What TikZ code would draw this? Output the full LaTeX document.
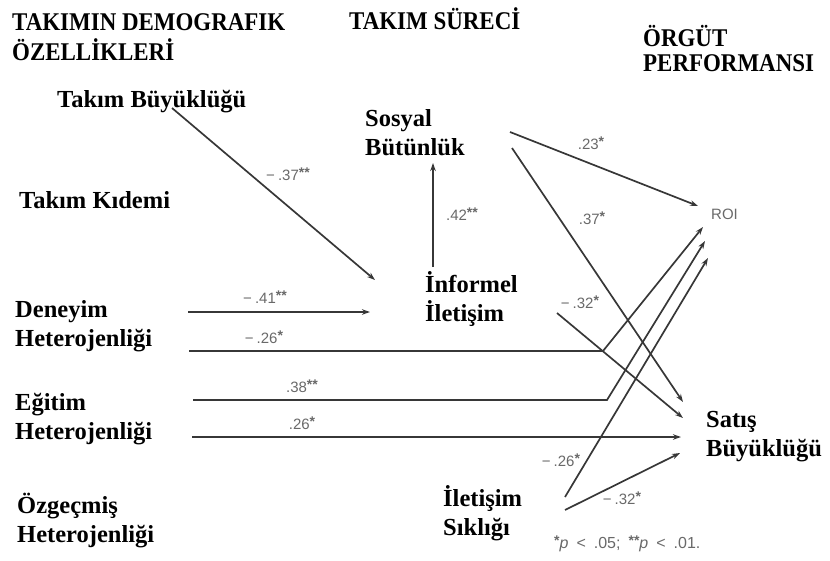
\documentclass[tikz,border=0pt]{standalone}
\usepackage{fontspec}
\setmainfont{Liberation Serif}
\setsansfont{Liberation Sans}
\newfontfamily\headfont[FakeStretch=0.9]{Liberation Serif}
\usetikzlibrary{arrows.meta}

\definecolor{inkline}{RGB}{55,55,55}
\definecolor{coefgrey}{RGB}{105,105,105}

% significance marks set as raised asterisks
\newcommand{\stars}[1]{\raisebox{0.35ex}{\fontsize{14}{14}\selectfont\bfseries #1}}
\newcommand{\mns}{−\hspace{3pt}}

\begin{document}
\begin{tikzpicture}[x=1pt,y=-1pt,
  heading/.style={font=\headfont\bfseries\fontsize{25.5}{30}\selectfont, anchor=base west, align=left, inner sep=0pt},
  var/.style={font=\bfseries\fontsize{24.5}{29}\selectfont, anchor=base west, align=left, inner sep=0pt},
  coef/.style={font=\sffamily\fontsize{15}{17}\selectfont, text=coefgrey, inner sep=0pt},
  link/.style={draw=inkline, line width=1.7pt, -{Stealth[length=8pt,width=5.5pt]}},
]
\useasboundingbox (0,0) rectangle (830,560);

% column headings (anchored on the baseline of their last line)
\node[heading] (hdemo) at (12,60) {TAKIMIN DEMOGRAFIK\\ÖZELLİKLERİ};
\node[heading] (hproc) at (349,29) {TAKIM SÜRECİ};
\node[heading, font=\headfont\bfseries\fontsize{25.5}{25}\selectfont] (hperf) at (643,71) {ÖRGÜT\\PERFORMANSI};

% variables
\node[var] (tb) at (57,107) {Takım Büyüklüğü};
\node[var] (tk) at (19,208) {Takım Kıdemi};
\node[var] (deney) at (15,346) {Deneyim\\Heterojenliği};
\node[var] (egitim) at (15,439) {Eğitim\\Heterojenliği};
\node[var] (ozgec) at (17,542) {Özgeçmiş\\Heterojenliği};
\node[var] (sosyal) at (365,155) {Sosyal\\Bütünlük};
\node[var] (informel) at (425,321) {İnformel\\İletişim};
\node[var] (satis) at (706,456) {Satış\\Büyüklüğü};
\node[var] (iletisim) at (443,535) {İletişim\\Sıklığı};
\node[coef, anchor=west] (roi) at (711,214) {ROI};

% connector end points
\coordinate (tb-out) at (172,108);
\coordinate (inf-in1) at (375,280);
\coordinate (den-out1) at (188,312);
\coordinate (inf-in2) at (370,312);
\coordinate (inf-out1) at (433,267);
\coordinate (sos-in) at (433,163);
\coordinate (sos-out1) at (510,132);
\coordinate (sos-out2) at (512,148);
\coordinate (inf-out2) at (557,313);
\coordinate (den-out2) at (189,351);
\coordinate (den-bend) at (603,351);
\coordinate (egi-out1) at (193,400);
\coordinate (egi-bend) at (607,400);
\coordinate (egi-out2) at (192,437);
\coordinate (ile-out1) at (565,497);
\coordinate (ile-out2) at (565,510);
\coordinate (roi-in1) at (698,206);
\coordinate (roi-in2) at (703,227);
\coordinate (roi-in3) at (705,241);
\coordinate (roi-in4) at (708,258);
\coordinate (sat-in1) at (683,402);
\coordinate (sat-in2) at (683,418);
\coordinate (sat-in3) at (681,437);
\coordinate (sat-in4) at (680,453);

% paths
\draw[link] (tb-out) -- (inf-in1);
\draw[link] (den-out1) -- (inf-in2);
\draw[link] (inf-out1) -- (sos-in);
\draw[link] (sos-out1) -- (roi-in1);
\draw[link] (sos-out2) -- (sat-in1);
\draw[link] (inf-out2) -- (sat-in2);
\draw[link] (den-out2) -- (den-bend) -- (roi-in2);
\draw[link] (egi-out1) -- (egi-bend) -- (roi-in3);
\draw[link] (egi-out2) -- (sat-in3);
\draw[link] (ile-out1) -- (roi-in4);
\draw[link] (ile-out2) -- (sat-in4);

% path coefficients
\node[coef] (c1) at (288,174) {\mns.37\stars{**}};
\node[coef] (c2) at (265,297) {\mns.41\stars{**}};
\node[coef] (c3) at (264,337) {\mns.26\stars{*}};
\node[coef] (c4) at (302,386) {.38\stars{**}};
\node[coef] (c5) at (302,423) {.26\stars{*}};
\node[coef] (c6) at (462,214) {.42\stars{**}};
\node[coef] (c7) at (591,143) {.23\stars{*}};
\node[coef] (c8) at (592,218) {.37\stars{*}};
\node[coef] (c9) at (580,302) {\mns.32\stars{*}};
\node[coef] (c10) at (561,460) {\mns.26\stars{*}};
\node[coef] (c11) at (622,498) {\mns.32\stars{*}};

% significance note
\node[coef, anchor=base west, font=\sffamily\fontsize{16}{18}\selectfont] (note) at (554,548)
  {\stars{*}\textit{p}\hspace{8pt}<\hspace{8pt}.05;\hspace{8pt}\stars{**}\textit{p}\hspace{8pt}<\hspace{8pt}.01.};
\end{tikzpicture}
\end{document}
